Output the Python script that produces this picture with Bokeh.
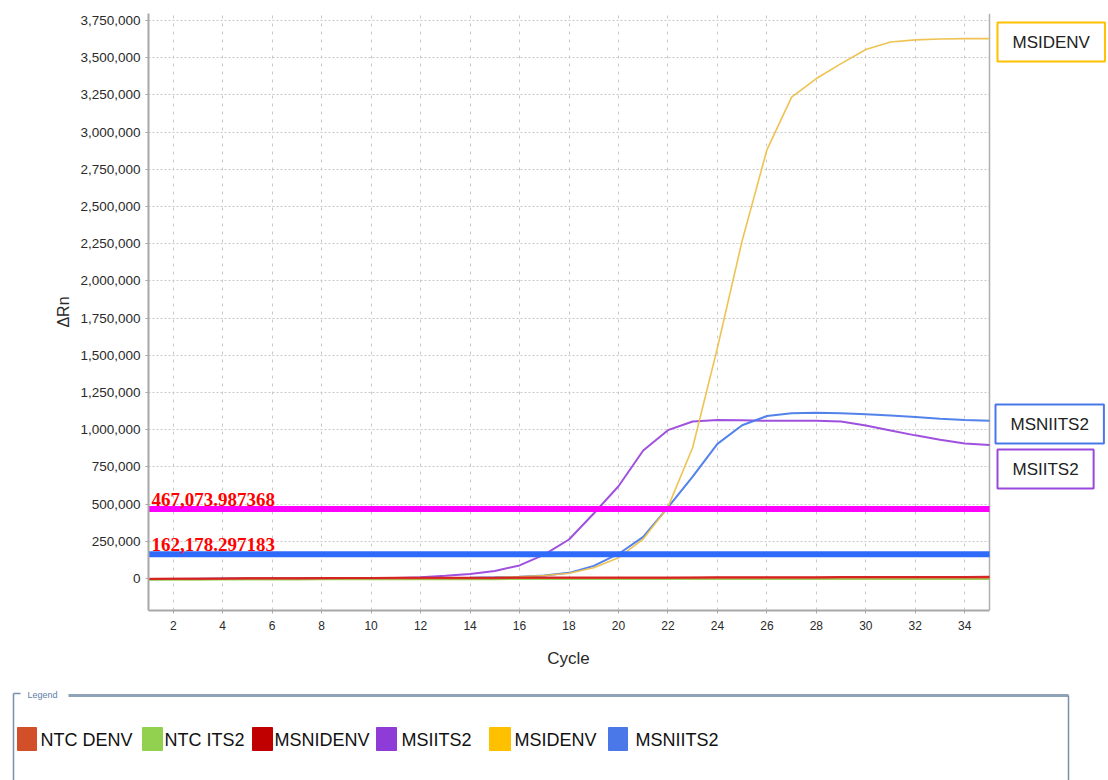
from bokeh.plotting import figure
from bokeh.models import Range1d, FixedTicker, NumeralTickFormatter, Label
from bokeh.embed import file_html
from bokeh.resources import INLINE
from bokeh.core.properties import value

# Amplification data: delta Rn per cycle
cycles = list(range(1, 36))

ntc_denv = [-2000, -1500, -1000, -800, -500, 0, 500, 800, 1000, 1200, 1500, 1800,
            2000, 2200, 2500, 2800, 3000, 3200, 3500, 3800, 4000, 4200, 4500, 4800,
            5000, 5200, 5500, 5800, 6000, 6200, 6500, 6800, 7000, 7200, 7500]
ntc_its2 = [-9000, -8500, -8000, -7500, -7000, -6500, -6000, -5800, -5500, -5200, -5000, -4800,
            -4600, -4400, -4200, -4000, -3800, -3600, -3400, -3200, -3000, -3000, -3000, -3000,
            -3000, -3000, -3000, -3000, -3000, -3000, -3000, -3000, -3000, -3000, -3000]
msnidenv = [-3000, -2000, -1000, 0, 1000, 2000, 2500, 3000, 3500, 4000, 4500, 5000,
            5000, 5500, 5500, 6000, 6000, 6500, 6500, 7000, 7000, 7500, 7500, 8000,
            8000, 8500, 9000, 9000, 9500, 9500, 10000, 10000, 10500, 10500, 11000]
msiits2 = [-4000, -3000, -2000, -1000, 0, 500, 1000, 1500, 2000, 2500, 3500, 8000,
           18000, 30000, 50000, 88000, 160000, 262000, 437000, 620000, 860000, 997000, 1055000, 1065000,
           1063000, 1060000, 1060000, 1060000, 1055000, 1028000, 995000, 962000, 932000, 908000, 898000]
msidenv = [-6000, -5000, -4000, -3000, -2000, -1500, -1000, -500, 0, 500, 1000, 1500,
           2500, 4000, 7000, 12000, 20000, 35000, 72000, 140000, 265000, 480000, 880000, 1550000,
           2270000, 2880000, 3235000, 3360000, 3460000, 3555000, 3605000, 3620000, 3626000, 3628000, 3628000]
msniits2 = [-5000, -4000, -3000, -2000, -1000, -500, 0, 500, 1000, 1500, 2000, 2500,
            3000, 5000, 8000, 12000, 21000, 38000, 85000, 165000, 280000, 478000, 685000, 905000,
            1030000, 1092000, 1110000, 1114000, 1110000, 1104000, 1096000, 1085000, 1074000, 1066000, 1060000]

series_names = ["NTC DENV", "NTC ITS2", "MSNIDENV", "MSIITS2", "MSIDENV", "MSNIITS2"]
series_values = [ntc_denv, ntc_its2, msnidenv, msiits2, msidenv, msniits2]
series_colors = ["#D34F2A", "#92D050", "#C00000", "#8E3BD8", "#FFC000", "#4A78E8"]
line_colors = ["#E0503A", "#92D050", "#D42020", "#9A48DC", "#EDC04A", "#4A7BEA"]

thresholds = [467073.987368, 162178.297183]
threshold_labels = ["467,073.987368", "162,178.297183"]
threshold_colors = ["#FF00FF", "#2F6BFA"]

y_ticks = list(range(0, 3750001, 250000))
x_ticks = list(range(2, 35, 2))

X_MIN, X_MAX = 1, 35
Y_MIN, Y_MAX = -215000, 3797000

FONT = "Liberation Sans"

# ---------------- main amplification plot ----------------
# The frame runs to the right edge so the curve tags can sit beside the data;
# the part past the last cycle is blanked out.
PLOT_W = 841
FRAME_W = 960
x_end = X_MIN + FRAME_W * (X_MAX - X_MIN) / PLOT_W

p = figure(frame_width=FRAME_W, frame_height=597,
           min_border_left=148, min_border_right=0,
           min_border_top=13, min_border_bottom=35,
           x_range=Range1d(X_MIN, x_end), y_range=Range1d(Y_MIN, Y_MAX),
           output_backend="svg", toolbar_location=None)
p.outline_line_color = None
p.background_fill_color = "white"
p.border_fill_color = "white"

p.xaxis.ticker = FixedTicker(ticks=x_ticks)
p.xaxis.bounds = (X_MIN, X_MAX)
p.yaxis.ticker = FixedTicker(ticks=y_ticks)
p.yaxis.formatter = NumeralTickFormatter(format="0,0")
for ax in (p.xaxis, p.yaxis):
    ax.axis_line_color = "#a8a8a8"
    ax.axis_line_width = 2
    ax.major_tick_line_color = "#a8a8a8"
    ax.major_tick_in = 0
    ax.major_tick_out = 3
    ax.minor_tick_line_color = None
    ax.major_label_text_font = FONT
    ax.major_label_text_color = "#2a2a2a"
    ax.axis_label_text_font = FONT
    ax.axis_label_text_color = "#2a2a2a"
    ax.axis_label_text_font_style = "normal"
p.xaxis.major_label_text_font_size = "12px"
p.yaxis.major_label_text_font_size = "13.5px"
p.xaxis.major_label_standoff = 7
p.yaxis.major_label_standoff = 5
p.yaxis.axis_label = "ΔRn"
p.yaxis.axis_label_text_font_size = "16px"
p.yaxis.axis_label_standoff = 5

p.xgrid.grid_line_color = "#c8c8c8"
p.xgrid.grid_line_dash = "3 5"
p.ygrid.grid_line_color = "#c8c8c8"
p.ygrid.grid_line_dash = "2 2"

# blank strip right of the data area, and the frame edge
p.quad(left=[X_MAX], right=[x_end + 1], bottom=[Y_MIN - 1e6], top=[Y_MAX + 1e6],
       fill_color="white", line_color=None)
p.segment(x0=[X_MAX], y0=[Y_MIN], x1=[X_MAX], y1=[Y_MAX],
          line_color="#b0b0b0", line_width=1.5)

# curves: rising samples first, flat controls on top
draw_order = [3, 5, 4, 1, 0, 2]
for i in draw_order:
    w = 1.6 if i == 4 else 2
    p.line(cycles, series_values[i], line_color=line_colors[i], line_width=w, line_alpha=0.95)

# thresholds
for t, lab, c in zip(thresholds, threshold_labels, threshold_colors):
    p.segment(x0=[X_MIN], y0=[t], x1=[X_MAX], y1=[t], line_color=c, line_width=6)
    p.add_layout(Label(x=X_MIN, y=t, x_offset=3, y_offset=3, text=lab,
                       text_font="Liberation Serif", text_font_style="bold",
                       text_font_size="19px", text_color="#FF0000",
                       text_baseline="bottom", text_align="left"))

# end-of-curve tags (screen units, measured from the frame's lower-left corner)
FRAME_LEFT, FRAME_BOTTOM = 148, 610
tags = [("MSIDENV", "#FFC000", 997, 22), ("MSNIITS2", "#4A78E8", 995, 404),
        ("MSIITS2", "#9A48DC", 997, 449)]
for name, c, left, top in tags:
    p.add_layout(Label(x=left - FRAME_LEFT, y=FRAME_BOTTOM - top, x_units="screen", y_units="screen",
                       text=name, text_font=FONT, text_font_size="17px", text_color="#222222",
                       text_align="left", text_baseline="top",
                       border_line_color=c, border_line_width=2,
                       background_fill_color="white", padding=(15, 10)))

# ---------------- axis title + legend panel ----------------
LG_H = 135
lg = figure(width=1108, height=LG_H, x_range=Range1d(0, 1108), y_range=Range1d(LG_H, 0),
            min_border=0, output_backend="svg", toolbar_location=None)
lg.axis.visible = False
lg.grid.visible = False
lg.outline_line_color = None

lg.text(x=[568], y=[13], text=["Cycle"], text_font=value(FONT), text_font_size="17px",
        text_color="#2a2a2a", text_align="center", text_baseline="middle")

frame_color = "#7890aa"
lg.segment(x0=[68], y0=[50], x1=[1068], y1=[50], line_color="#8fa3b8", line_width=3)
lg.segment(x0=[13, 13, 1068], y0=[48, 48, 50], x1=[20, 13, 1068], y1=[48, LG_H, LG_H],
           line_color=frame_color, line_width=1.5)
lg.text(x=[27], y=[49], text=["Legend"], text_font=value(FONT), text_font_size="9px",
        text_color="#5b7fa6", text_baseline="middle")

swatch_left = [17, 142, 252, 376, 489, 608]
text_left = [40, 164, 274, 401, 514, 635]
swatch_w = [19, 20, 20, 20, 21, 19]
lg.quad(left=swatch_left, right=[a + b for a, b in zip(swatch_left, swatch_w)],
        top=[82] * 6, bottom=[105] * 6, fill_color=series_colors, line_color=series_colors)
lg.text(x=text_left, y=[94] * 6, text=series_names, text_font=value(FONT),
        text_font_size="18px", text_color="#111111", text_baseline="middle")

open("out.html", "w").write(file_html([p, lg], INLINE))
